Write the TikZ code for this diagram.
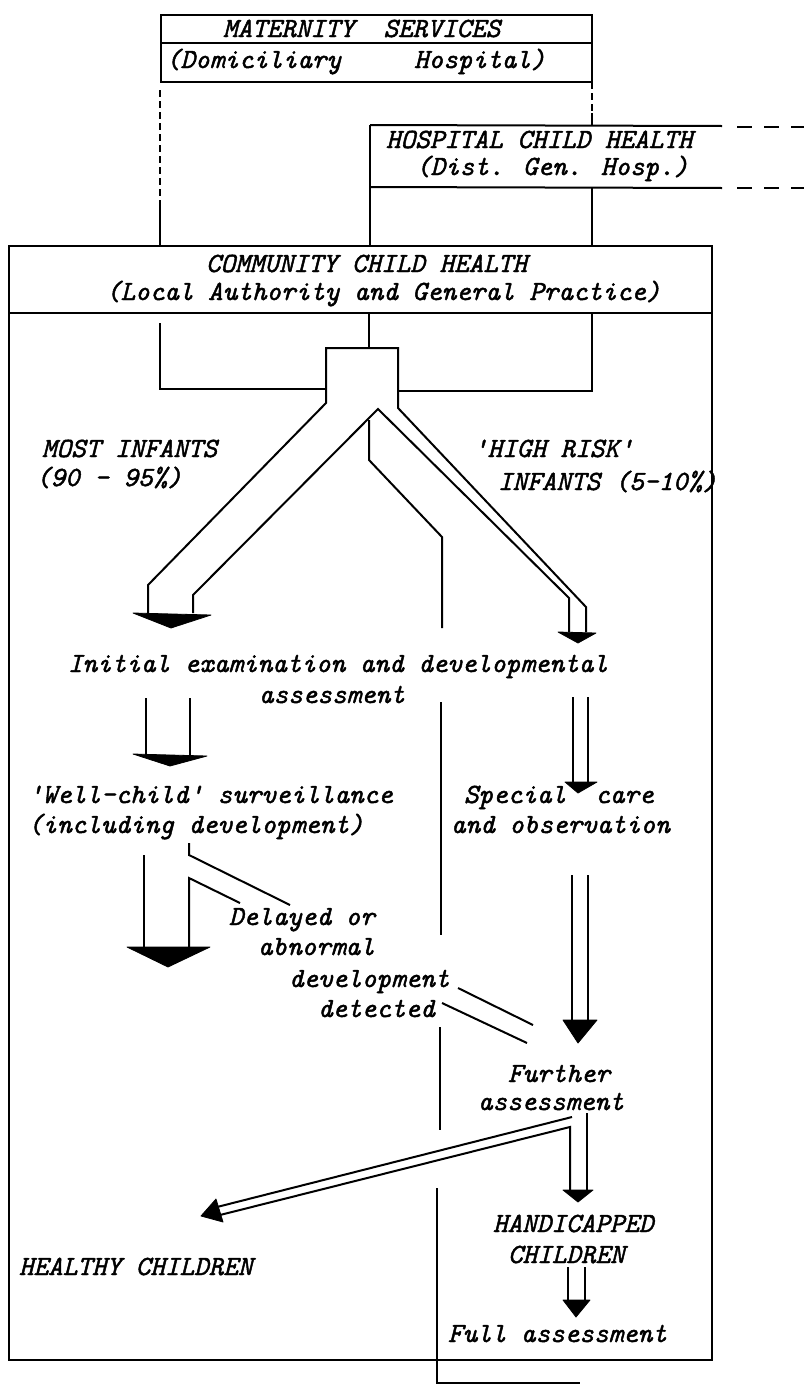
\documentclass[tikz,border=0pt]{standalone}
\usepackage{fontspec}
\newfontfamily\twfont{lmmono10-italic.otf}[FakeBold=1.6]
\begin{document}
\begin{tikzpicture}[x=1pt,y=-1pt,line width=2pt,line join=miter,
  tw/.style={font=\fontsize{27.8}{30}\selectfont\twfont,inner sep=0pt,anchor=base west},
  arrhead/.style={fill=black,draw=black,line width=0.8pt,line join=round},
  dashline/.style={dash pattern=on 7pt off 4pt},
  tailline/.style={dash pattern=on 15pt off 12pt}]
\useasboundingbox (0,0) rectangle (804,1384);

% ---- Maternity services ----
\draw (161,15) rectangle (592,82);
\draw (161,43) -- (592,43);
\node[tw] (mat1) at (222,37) {MATERNITY~~SERVICES};
\node[tw] (mat2) at (165,68) {(Domiciliary~~~~~Hospital)};
\draw[dashline] (160,90) -- (160,200);
\draw (160,200) -- (160,246);
\draw[dashline] (592,82) -- (592,113);
\draw (592,113) -- (592,125);

% ---- Hospital child health ----
\draw (370,125) -- (722,126);
\draw (370,187) -- (722,188);
\draw[tailline] (737,127) -- (804,127);
\draw[tailline] (737,188) -- (804,188);
\draw (370,125) -- (370,246);
\draw (592,187) -- (592,246);
\node[tw] (hos1) at (385,148) {HOSPITAL CHILD HEALTH};
\node[tw] (hos2) at (415,175) {(Dist. Gen. Hosp.)};

% ---- Community child health ----
\draw (9,246) rectangle (712,1360);
\draw (9,313) -- (712,313);
\node[tw] (com1) at (205,272) {COMMUNITY CHILD HEALTH};
\node[tw] (com2) at (105,300) {(Local Authority and General Practice)};

% lines converging on the junction
\draw (160,323) -- (160,389) -- (326,389);
\draw (592,313) -- (592,391) -- (398,391);
\draw (369,313) -- (369,348);

% junction and the two branches
\draw (148,613) -- (148,585) -- (326,403) -- (326,348) -- (398,348) -- (398,408) -- (586,607) -- (586,632);
\draw (193,613) -- (193,595) -- (378,409) -- (569,598) -- (569,632);
\draw (369,420) -- (369,460) -- (442,537) -- (442,628);
\fill[arrhead] (133,613) -- (211,615) -- (171,628) -- cycle;
\fill[arrhead] (558,632) -- (596,633) -- (578,643) -- cycle;

\node[tw] (most1) at (41,457) {MOST INFANTS};
\node[tw] (most2) at (35,486) {(90 - 95\%)};
\node[tw] (risk1) at (472,457) {'HIGH RISK'};
\node[tw] (risk2) at (497,490) {INFANTS (5-10\%)};

% initial examination
\node[tw] (init1) at (67,672) {Initial examination and developmental};
\node[tw] (init2) at (258,703) {assessment};

\draw (146,698) -- (146,755);
\draw (190,698) -- (190,755);
\fill[arrhead] (133,754) -- (207,756) -- (170,766) -- cycle;
\draw (573,697) -- (573,782);
\draw (588,697) -- (588,782);
\fill[arrhead] (565,782) -- (597,782) -- (578,793) -- cycle;

\node[tw] (well1) at (27,803) {'Well-child' surveillance};
\node[tw] (well2) at (27,833) {(including development)};
\node[tw] (spec1) at (463,803) {Special~~care};
\node[tw] (spec2) at (450,833) {and observation};

% long arrow to healthy children, with the side branch
\draw (144,855) -- (144,947);
\draw (189,843) -- (189,855) -- (290,905);
\draw (240,903) -- (189,878) -- (189,947);
\fill[arrhead] (127,947) -- (210,947) -- (168,967) -- cycle;

\node[tw] (del1) at (228,925) {Delayed or};
\node[tw] (del2) at (257,955) {abnormal};
\node[tw] (del3) at (288,987) {development};
\node[tw] (del4) at (317,1017) {detected};
\draw (458,988) -- (533,1025);
\draw (442,1003) -- (527,1043);

% special care to further assessment
\draw (572,875) -- (572,1020);
\draw (588,875) -- (588,1020);
\fill[arrhead] (563,1020) -- (597,1020) -- (578,1043) -- cycle;

\node[tw] (fur1) at (507,1082) {Further};
\node[tw] (fur2) at (477,1110) {assessment};

% further assessment to healthy children
\draw (572,1117) -- (217,1207);
\draw (220,1215) -- (570,1127) -- (570,1190);
\fill[arrhead] (201,1216) -- (216,1199) -- (223,1222) -- cycle;
\draw (587,1113) -- (587,1190);
\fill[arrhead] (563,1190) -- (593,1190) -- (578,1202) -- cycle;

\node[tw] (hand1) at (492,1232) {HANDICAPPED};
\node[tw] (hand2) at (507,1263) {CHILDREN};
\draw (568,1267) -- (568,1300);
\draw (585,1267) -- (585,1300);
\fill[arrhead] (563,1300) -- (590,1300) -- (576,1317) -- cycle;
\node[tw] (full) at (447,1342) {Full assessment};

\node[tw] (heal) at (18,1275) {HEALTHY CHILDREN};

% hospital boundary running down the middle
\draw (441,702) -- (441,935);
\draw (440,1027) -- (440,1130);
\draw (437,1188) -- (437,1383) -- (580,1383);
\end{tikzpicture}
\end{document}
